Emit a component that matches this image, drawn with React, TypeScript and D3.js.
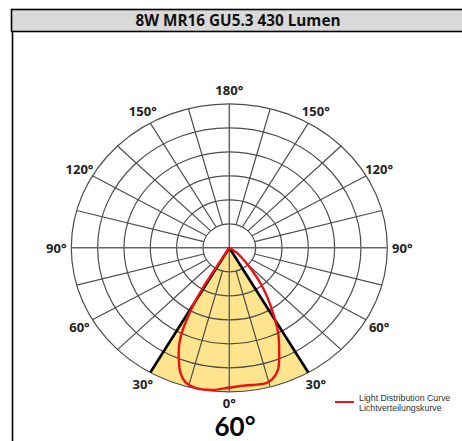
import React from "react";
import * as d3 from "d3";

const title = "8W MR16 GU5.3 430 Lumen";
const beamLabel = "60°";
const beamHalfAngle = 30;
const ringCount = 6;
const spokeStep = 15;
const tickAngles = [0, 30, 60, 90, 120, 150, 180];
const legendLines = ["Light Distribution Curve", "Lichtverteilungskurve"];

// light distribution curve: angle (deg, 0 = down, + = right) and intensity in ring units (0..6)
const curveAngles = [-30, -31, -31.5, -31, -29.8, -28.4, -27, -25, -22.4, -19.6, -16.6, -12.5, -6.3, -0.2, 6, 13.6, 16.5, 20.1, 23.4, 27.6, 32.2, 37.9, 44, 54, 0];
const curveValues = [0, 0.56, 1.23, 1.99, 2.75, 3.39, 3.98, 4.52, 5.03, 5.53, 5.84, 5.98, 5.96, 5.83, 5.77, 5.81, 5.72, 5.39, 4.77, 4.0, 3.04, 2.02, 1.06, 0.36, 0];

const W = 462;
const H = 441;
const cx = 229.3;
const cy = 247.8;
const rX = d3.scaleLinear().domain([0, ringCount]).range([0, 158]);
const rY = d3.scaleLinear().domain([0, ringCount]).range([0, 144]);

function proj(angleDeg: number, v: number): [number, number] {
  const a = (angleDeg * Math.PI) / 180;
  return [cx + rX(v) * Math.sin(a), cy + rY(v) * Math.cos(a)];
}

export default function App() {
  const rings = d3.range(1, ringCount + 1);
  const spokes = d3.range(0, 360, spokeStep);
  const curvePts = curveAngles.map((a, i) => proj(a, curveValues[i]));
  const curvePath = d3.line().curve(d3.curveCatmullRom.alpha(0.5))(curvePts) || "";

  const [lx, ly] = proj(-beamHalfAngle, ringCount);
  const [rx2, ry2] = proj(beamHalfAngle, ringCount);
  const wedge = `M${cx},${cy}L${lx},${ly}A${rX(ringCount)},${rY(ringCount)} 0 0 0 ${rx2},${ry2}Z`;

  const labels: { a: number; t: string }[] = [];
  tickAngles.forEach((a) => {
    labels.push({ a, t: `${a}°` });
    if (a !== 0 && a !== 180) labels.push({ a: -a, t: `${a}°` });
  });
  const labelR = ringCount * 1.095;

  const gridColor = "#4d4d4d";

  return (
    <svg width={W} height={H} style={{ position: "absolute", left: 0, top: 0, background: "#fff" }}>
      {/* title bar */}
      <rect x={11.5} y={9.5} width={470} height={22} fill="#d9d9d9" stroke="#000" strokeWidth={1.6} />
      <line x1={12.5} y1={31} x2={12.5} y2={H} stroke="#000" strokeWidth={1.6} />
      <text x={238} y={26} textAnchor="middle" fontFamily="'Open Sans', sans-serif" fontWeight="bold" fontSize={15.3} fill="#111">
        {title}
      </text>

      {/* beam wedge */}
      <path d={wedge} fill="#fee48c" stroke="none" />

      {/* grid */}
      {rings.map((k) => (
        <ellipse key={k} cx={cx} cy={cy} rx={rX(k)} ry={rY(k)} fill="none" stroke={gridColor} strokeWidth={1.2} />
      ))}
      {spokes.map((a) => {
        const through = a % 90 === 0;
        const [x1, y1] = proj(a, through ? 0 : 1);
        const [x2, y2] = proj(a, ringCount);
        return <line key={a} x1={x1} y1={y1} x2={x2} y2={y2} stroke={through ? "#666" : gridColor} strokeWidth={through ? 1.5 : 1.2} />;
      })}

      {/* beam lines */}
      {[-beamHalfAngle, beamHalfAngle].map((a) => {
        const [x2, y2] = proj(a, ringCount);
        return <line key={a} x1={cx} y1={cy} x2={x2} y2={y2} stroke="#000" strokeWidth={2.6} />;
      })}

      {/* light distribution curve */}
      <path d={curvePath} fill="none" stroke="#ee1111" strokeWidth={2.4} strokeLinejoin="round" />

      {/* angle labels */}
      {labels.map((l, i) => {
        const [x, y] = proj(l.a, labelR);
        return (
          <text key={i} x={x} y={l.a === 0 ? y - 2 : y} textAnchor="middle" dominantBaseline="central" fontFamily="'Open Sans', sans-serif" fontWeight="bold" fontSize={13} fill="#222">
            {l.t}
          </text>
        );
      })}

      {/* beam angle */}
      <text x={235} y={435.5} textAnchor="middle" fontFamily="Lato, 'Open Sans', sans-serif" fontWeight="bold" fontSize={26} fill="#000">
        {beamLabel}
      </text>

      {/* legend */}
      <line x1={335} y1={402} x2={354} y2={402} stroke="#ee1111" strokeWidth={2} />
      {legendLines.map((t, i) => (
        <text key={i} x={359} y={401 + i * 10} fontFamily="'Liberation Sans', Arial, sans-serif" fontSize={8.8} fill="#333">
          {t}
        </text>
      ))}
    </svg>
  );
}
